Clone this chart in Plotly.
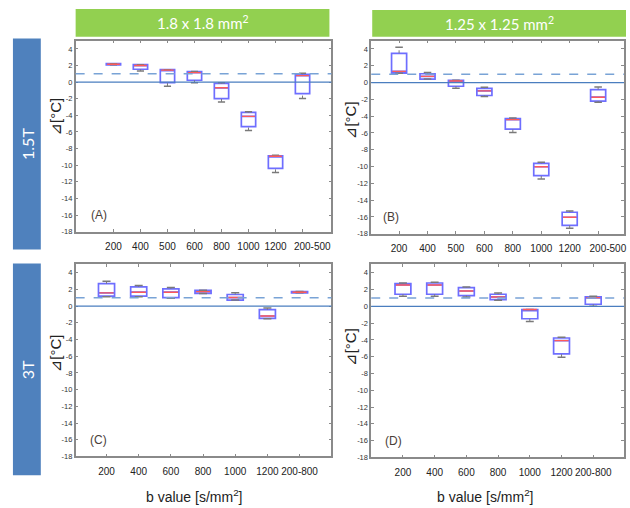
import plotly.graph_objects as go

W, H = 630, 508

# ---------------- data ----------------
cats_top = ["200", "400", "500", "600", "800", "1000", "1200", "200-500"]
cats_bot = ["200", "400", "600", "800", "1000", "1200", "200-800"]

# Panel A (1.5T, 1.8x1.8)
a_low = [2.08, 1.35, -0.48, -0.08, -2.38, -5.83, -10.86, -1.98]
a_q1 = [2.08, 1.55, -0.05, 0.23, -1.98, -5.35, -10.39, -1.39]
a_med = [2.15, 2.00, 1.45, 1.15, -0.68, -4.12, -8.92, 0.79]
a_q3 = [2.22, 2.10, 1.50, 1.27, -0.16, -3.65, -8.88, 0.95]
a_high = [2.22, 2.10, 1.50, 1.27, -0.08, -3.57, -8.80, 1.07]

# Panel B (1.5T, 1.25x1.25)
b_low = [1.10, 0.42, -0.68, -1.66, -5.94, -11.48, -17.34, -2.33]
b_q1 = [1.13, 0.42, -0.44, -1.54, -5.55, -11.09, -17.02, -2.21]
b_med = [1.33, 0.74, 0.19, -0.99, -4.41, -10.03, -16.04, -1.74]
b_q3 = [3.49, 1.05, 0.27, -0.68, -4.29, -9.63, -15.45, -0.83]
b_high = [4.20, 1.20, 0.27, -0.56, -4.21, -9.48, -15.29, -0.52]

# Panel C (3T, 1.8x1.8)
c_low = [1.11, 1.11, 0.95, 1.51, 0.72, -1.50, 1.59]
c_q1 = [1.19, 1.19, 1.03, 1.51, 0.72, -1.46, 1.59]
c_med = [1.59, 1.67, 1.67, 1.74, 1.03, -1.18, 1.67]
c_q3 = [2.69, 2.30, 2.06, 1.90, 1.39, -0.43, 1.74]
c_high = [2.97, 2.46, 2.22, 1.90, 1.59, -0.23, 1.74]

# Panel D (3T, 1.25x1.25)
d_low = [1.20, 1.20, 1.12, 0.73, -1.80, -6.06, 0.02]
d_q1 = [1.44, 1.44, 1.28, 0.81, -1.48, -5.66, 0.25]
d_med = [2.54, 2.54, 1.83, 1.12, -0.38, -4.08, 1.04]
d_q3 = [2.70, 2.78, 2.23, 1.44, -0.38, -3.77, 1.12]
d_high = [2.78, 2.86, 2.30, 1.60, -0.38, -3.69, 1.20]

y_ticks = [4, 2, 0, -2, -4, -6, -8, -10, -12, -14, -16, -18]
ref_solid = 0
ref_dashed = 1

col_headers = ["1.8 x 1.8 mm<sup>2</sup>", "1.25 x 1.25 mm<sup>2</sup>"]
row_headers = ["1.5T", "3T"]
panel_labels = ["(A)", "(B)", "(C)", "(D)"]
x_title = "b value [s/mm<sup>2</sup>]"
y_title = "⊿[°C]"

# ---------------- layout geometry (pixels) ----------------
def px_x(p):
    return p / W

def px_y(p):
    return 1 - p / H

panels = [
    dict(cats=cats_top, low=a_low, q1=a_q1, med=a_med, q3=a_q3, high=a_high,
         x0=76, x1=333, y0=41, y1=234, xr=[-1.4, 8.07], bw=0.53, ytitle=(56, 118), lab=0.09,
         xt=None, pad_last=7),
    dict(cats=cats_top, low=b_low, q1=b_q1, med=b_med, q3=b_q3, high=b_high,
         x0=373, x1=627, y0=41, y1=236, xr=[-0.98, 7.91], bw=0.53, ytitle=(352, 121), lab=0.08,
         xt=None, pad_last=7),
    dict(cats=cats_bot, low=c_low, q1=c_q1, med=c_med, q3=c_q3, high=c_high,
         x0=76, x1=333, y0=267, y1=461, xr=[-0.96, 6.99], bw=0.5, ytitle=(56, 357), lab=0.09,
         xt=(195, 501), pad_last=0),
    dict(cats=cats_bot, low=d_low, q1=d_q1, med=d_med, q3=d_q3, high=d_high,
         x0=373, x1=627, y0=267, y1=462, xr=[-1.0, 6.97], bw=0.5, ytitle=(352, 350), lab=0.09,
         xt=(487, 501), pad_last=0),
]

fig = go.Figure()
shapes = []
annotations = []
FONT = "Liberation Sans, Arial, DejaVu Sans, sans-serif"
BOX_COL = "#6e6eff"
MED_COL = "#ff5a5a"
WHISK_COL = "#7a7a7a"

for k, p in enumerate(panels):
    n = k + 1
    xa = "x" if n == 1 else f"x{n}"
    ya = "y" if n == 1 else f"y{n}"
    idx = list(range(len(p["cats"])))
    bw = p["bw"]

    # whiskers (vertical) and caps
    wx, wy, cx, cy = [], [], [], []
    for i in idx:
        wx += [i, i, None, i, i, None]
        wy += [p["low"][i], p["q1"][i], None, p["q3"][i], p["high"][i], None]
        cx += [i - bw * 0.25, i + bw * 0.25, None, i - bw * 0.25, i + bw * 0.25, None]
        cy += [p["low"][i], p["low"][i], None, p["high"][i], p["high"][i], None]
    fig.add_trace(go.Scatter(x=wx, y=wy, mode="lines", xaxis=xa, yaxis=ya,
                             line=dict(color=WHISK_COL, width=1, dash="dot"),
                             showlegend=False, hoverinfo="skip"))
    fig.add_trace(go.Scatter(x=cx, y=cy, mode="lines", xaxis=xa, yaxis=ya,
                             line=dict(color=WHISK_COL, width=1.5),
                             showlegend=False, hoverinfo="skip"))

    fig.add_trace(go.Box(
        x=idx, q1=p["q1"], median=p["med"], q3=p["q3"],
        lowerfence=p["q1"], upperfence=p["q3"],
        width=bw, whiskerwidth=0,
        line=dict(color=BOX_COL, width=1.7), fillcolor="rgba(255,255,255,1)",
        xaxis=xa, yaxis=ya, showlegend=False, boxpoints=False, hoverinfo="skip"))

    # medians
    mx, my = [], []
    for i in idx:
        mx += [i - bw / 2 + 0.03, i + bw / 2 - 0.03, None]
        my += [p["med"][i], p["med"][i], None]
    fig.add_trace(go.Scatter(x=mx, y=my, mode="lines", xaxis=xa, yaxis=ya,
                             line=dict(color=MED_COL, width=1.4),
                             showlegend=False, hoverinfo="skip"))

    ticktext = list(p["cats"])
    ticktext[-1] = "\u00a0" * p["pad_last"] + ticktext[-1]

    axis_common = dict(showline=True, linecolor="#8a8a8a", linewidth=1.5, mirror="ticks",
                       ticks="inside", tickcolor="#8a8a8a", ticklen=3, showgrid=False,
                       zeroline=False)
    fig.update_layout({
        ("xaxis" if n == 1 else f"xaxis{n}"): dict(
            domain=[px_x(p["x0"]), px_x(p["x1"])], anchor=ya, range=p["xr"],
            tickvals=idx, ticktext=ticktext, ticklabelstandoff=5, tickangle=0,
            tickfont=dict(family=FONT, size=10, color="#222"), **axis_common),
        ("yaxis" if n == 1 else f"yaxis{n}"): dict(
            domain=[px_y(p["y1"]), px_y(p["y0"])], anchor=xa, range=[-18, 5],
            tickvals=y_ticks, ticktext=[str(v) for v in y_ticks],
            tickfont=dict(family=FONT, size=7.5, color="#333"), **axis_common),
    })

    # reference lines
    shapes.append(dict(type="line", xref=f"{xa} domain", yref=ya, x0=0, x1=1,
                       y0=ref_solid, y1=ref_solid, line=dict(color="#4a7ebf", width=1.3)))
    shapes.append(dict(type="line", xref=f"{xa} domain", yref=ya, x0=0, x1=1,
                       y0=ref_dashed, y1=ref_dashed,
                       line=dict(color="#79a3d6", width=1.5, dash="dash")))

    # panel label
    annotations.append(dict(text=panel_labels[k], xref=f"{xa} domain", yref=ya,
                            x=p["lab"], y=-16, showarrow=False, xanchor="center",
                            font=dict(family=FONT, size=12, color="#4a4038")))
    # y title
    tx, ty = p["ytitle"]
    annotations.append(dict(text=y_title, xref="paper", yref="paper", x=px_x(tx), y=px_y(ty),
                            showarrow=False, textangle=-90, xanchor="center", yanchor="middle",
                            font=dict(family=FONT, size=15, color="#222")))
    if p["xt"]:
        tx, ty = p["xt"]
        annotations.append(dict(text=x_title, xref="paper", yref="paper", x=px_x(tx), y=px_y(ty),
                                showarrow=False, xanchor="center", yanchor="middle",
                                font=dict(family=FONT, size=14, color="#222")))

# green column headers
for (x0, x1, y0, y1), txt in zip([(76, 331, 9, 37), (374, 629, 10, 37)], col_headers):
    shapes.append(dict(type="rect", xref="paper", yref="paper", x0=px_x(x0), x1=px_x(x1),
                       y0=px_y(y1), y1=px_y(y0), fillcolor="#92d050", line=dict(width=0),
                       layer="below"))
    annotations.append(dict(text=txt, xref="paper", yref="paper", x=px_x((x0 + x1) / 2),
                            y=px_y((y0 + y1) / 2), showarrow=False, xanchor="center",
                            yanchor="middle", font=dict(family="Lato, sans-serif", size=15, color="white")))

# blue row headers
for (x0, x1, y0, y1), txt in zip([(13, 41, 39, 252), (13, 41, 266, 480)], row_headers):
    shapes.append(dict(type="rect", xref="paper", yref="paper", x0=px_x(x0), x1=px_x(x1),
                       y0=px_y(y1), y1=px_y(y0), fillcolor="#4f81bd", line=dict(width=0),
                       layer="below"))
    annotations.append(dict(text=txt, xref="paper", yref="paper", x=px_x((x0 + x1) / 2),
                            y=px_y((y0 + y1) / 2), showarrow=False, textangle=-90,
                            xanchor="center", yanchor="middle",
                            font=dict(family="Lato, sans-serif", size=16, color="white")))

fig.update_layout(width=W, height=H, margin=dict(l=0, r=0, t=0, b=0),
                  paper_bgcolor="white", plot_bgcolor="white",
                  shapes=shapes, annotations=annotations, showlegend=False)

fig.write_html("out.html", config={"displayModeBar": False},
               post_script="document.body.style.margin='0';document.body.style.overflow='hidden';")
